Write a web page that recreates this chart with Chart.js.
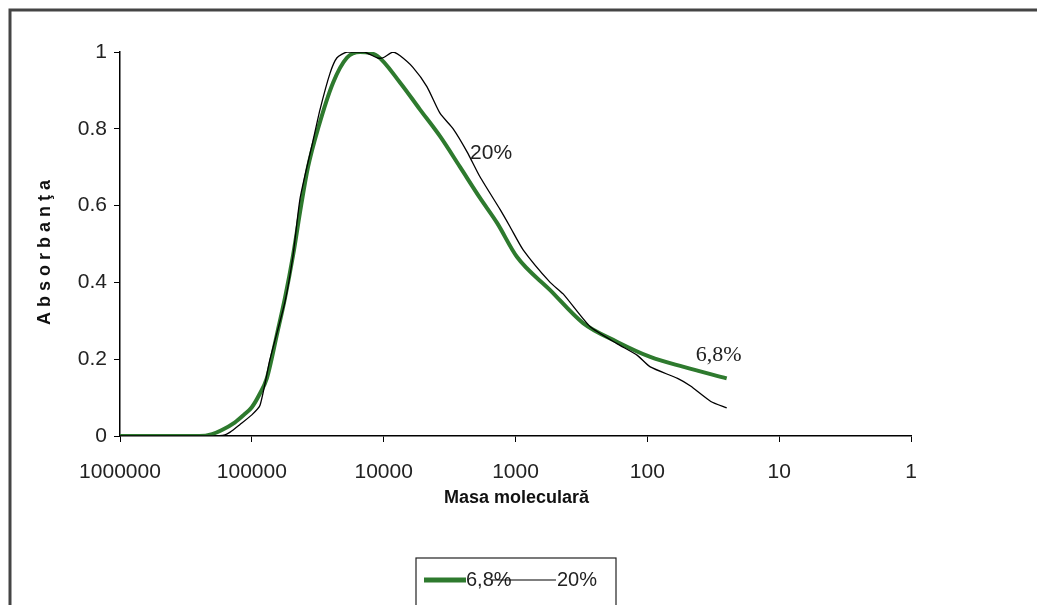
<!DOCTYPE html>
<html>
<head>
<meta charset="utf-8">
<script src="https://cdn.jsdelivr.net/npm/chart.js@4.4.1/dist/chart.umd.min.js"></script>
<style>
  html, body { margin: 0; padding: 0; background: #fff; }
  #wrap { width: 1037px; height: 605px; }
</style>
</head>
<body>
<div id="wrap"><canvas id="c" width="1037" height="605"></canvas></div>
<script>
// ---- data (molecular mass, absorbance) ----
const seriesLabels = ['6,8%', '20%'];

const greenMass = [1000000, 500000, 250000, 200000, 170000, 135000, 115000, 100000, 87000, 77000, 64000, 56000, 48700, 42300, 37500, 31500, 24200, 19000, 15100, 11200, 7500, 5300, 3730, 2630, 1860, 1380, 973, 546, 307, 169, 95, 53, 25];
const greenAbs  = [0, 0, 0, 0.005, 0.015, 0.035, 0.055, 0.075, 0.11, 0.15, 0.27, 0.36, 0.47, 0.6, 0.70, 0.80, 0.92, 0.985, 1.0, 0.99, 0.92, 0.85, 0.78, 0.70, 0.62, 0.555, 0.466, 0.38, 0.294, 0.245, 0.206, 0.18, 0.15];

const blackMass = [1000000, 300000, 200000, 160000, 146000, 123000, 100000, 86700, 72800, 56000, 48700, 43000, 34300, 30400, 25500, 22600, 19000, 14000, 11200, 10100, 8500, 7500, 6000, 4700, 3730, 2970, 2330, 1860, 1310, 1100, 875, 546, 435, 272, 169, 119, 95, 59, 47, 33, 25];
const blackAbs  = [0, 0, 0, 0.003, 0.01, 0.03, 0.055, 0.08, 0.2, 0.35, 0.47, 0.62, 0.77, 0.85, 0.945, 0.985, 1.0, 1.0, 0.985, 0.985, 1.0, 0.99, 0.96, 0.91, 0.84, 0.80, 0.74, 0.675, 0.59, 0.545, 0.485, 0.40, 0.37, 0.285, 0.24, 0.21, 0.18, 0.15, 0.13, 0.09, 0.073];

const xTickValues = [1000000, 100000, 10000, 1000, 100, 10, 1];
const yTickValues = [0, 0.2, 0.4, 0.6, 0.8, 1];

const xTitle = 'Masa moleculară';
const yTitle = 'Absorbanţa';
// in-plot labels: [text, mass, absorbance]
const curveLabels = [['20%', 2210, 0.737], ['6,8%', 43, 0.21]];

const toPts = (xs, ys) => xs.map((x, i) => ({ x: x, y: ys[i] }));

const GREEN = '#2e7a2e';

const decorPlugin = {
  id: 'decor',
  beforeDraw(chart) {
    const ctx = chart.ctx;
    ctx.save();
    ctx.fillStyle = '#fff';
    ctx.fillRect(0, 0, chart.width, chart.height);
    ctx.strokeStyle = '#444';
    ctx.lineWidth = 3;
    ctx.beginPath();
    ctx.moveTo(10, chart.height);
    ctx.lineTo(10, 10);
    ctx.lineTo(chart.width, 10);
    ctx.stroke();
    ctx.restore();
  },
  afterDraw(chart) {
    const ctx = chart.ctx;
    const xs = chart.scales.x, ys = chart.scales.y;
    ctx.save();
    // axis titles
    ctx.fillStyle = '#111';
    ctx.font = 'bold 18px "Liberation Sans", Arial, sans-serif';
    ctx.textAlign = 'center';
    ctx.textBaseline = 'middle';
    ctx.fillText(xTitle, (xs.left + xs.right) / 2 + 1, 498);
    ctx.save();
    ctx.translate(45, 250);
    ctx.rotate(-Math.PI / 2);
    ctx.letterSpacing = '5px';
    ctx.fillText(yTitle, 0, 0);
    ctx.restore();

    // curve labels
    ctx.textAlign = 'left';
    ctx.fillStyle = '#222';
    curveLabels.forEach(([t, m, a], i) => {
      ctx.font = i === 0 ? '21px "Liberation Sans", Arial, sans-serif' : '22px "Liberation Serif", "Times New Roman", serif';
      ctx.fillText(t, xs.getPixelForValue(m), ys.getPixelForValue(a));
    });

    // legend
    const bx = 416, by = 558, bw = 200, bh = 50;
    ctx.fillStyle = '#fff';
    ctx.fillRect(bx, by, bw, bh);
    ctx.strokeStyle = '#222';
    ctx.lineWidth = 1.2;
    ctx.strokeRect(bx, by, bw, bh);
    const ly = 580;
    const ds = chart.data.datasets;
    ctx.font = '20px "Liberation Sans", Arial, sans-serif';
    ctx.textBaseline = 'middle';
    // entry 1
    ctx.strokeStyle = ds[0].borderColor;
    ctx.lineWidth = 5;
    ctx.beginPath(); ctx.moveTo(424, ly); ctx.lineTo(466, ly); ctx.stroke();
    ctx.fillStyle = '#222';
    ctx.fillText(ds[0].label, 466, ly);
    // entry 2
    ctx.strokeStyle = ds[1].borderColor;
    ctx.lineWidth = 1.2;
    ctx.beginPath(); ctx.moveTo(492, ly); ctx.lineTo(556, ly); ctx.stroke();
    ctx.fillText(ds[1].label, 557, ly);
    ctx.restore();
  }
};

new Chart(document.getElementById('c'), {
  type: 'line',
  data: {
    datasets: [
      {
        label: seriesLabels[0],
        data: toPts(greenMass, greenAbs),
        borderColor: GREEN,
        borderWidth: 4,
        pointRadius: 0,
        cubicInterpolationMode: 'monotone',
        fill: false,
        order: 2
      },
      {
        label: seriesLabels[1],
        data: toPts(blackMass, blackAbs),
        borderColor: '#000',
        borderWidth: 1.3,
        pointRadius: 0,
        tension: 0.2,
        fill: false,
        order: 1
      }
    ]
  },
  options: {
    responsive: false,
    animation: false,
    devicePixelRatio: 1,
    layout: { padding: { left: 0, right: 126, top: 52, bottom: 0 } },
    plugins: { legend: { display: false }, tooltip: { enabled: false } },
    scales: {
      x: {
        type: 'logarithmic',
        reverse: true,
        min: 1,
        max: 1000000,
        afterBuildTicks: (s) => { s.ticks = xTickValues.map(v => ({ value: v })); },
        afterFit: (s) => { s.height = 169; },
        ticks: {
          callback: (v) => String(v),
          color: '#222',
          font: { family: '"Liberation Sans", Arial, sans-serif', size: 21 },
          padding: 18,
          maxRotation: 0,
          autoSkip: false
        },
        grid: { drawOnChartArea: false, drawTicks: true, tickLength: 6, color: '#000', lineWidth: 1 },
        border: { display: true, color: '#000', width: 1.5 }
      },
      y: {
        type: 'linear',
        min: 0,
        max: 1,
        afterBuildTicks: (s) => { s.ticks = yTickValues.map(v => ({ value: v })); },
        afterFit: (s) => { s.width = 120; },
        ticks: {
          callback: (v) => String(v),
          color: '#222',
          font: { family: '"Liberation Sans", Arial, sans-serif', size: 21 },
          padding: 7
        },
        grid: { drawOnChartArea: false, drawTicks: true, tickLength: 6, color: '#000', lineWidth: 1 },
        border: { display: true, color: '#000', width: 1.5 }
      }
    }
  },
  plugins: [decorPlugin]
});
</script>
</body>
</html>
